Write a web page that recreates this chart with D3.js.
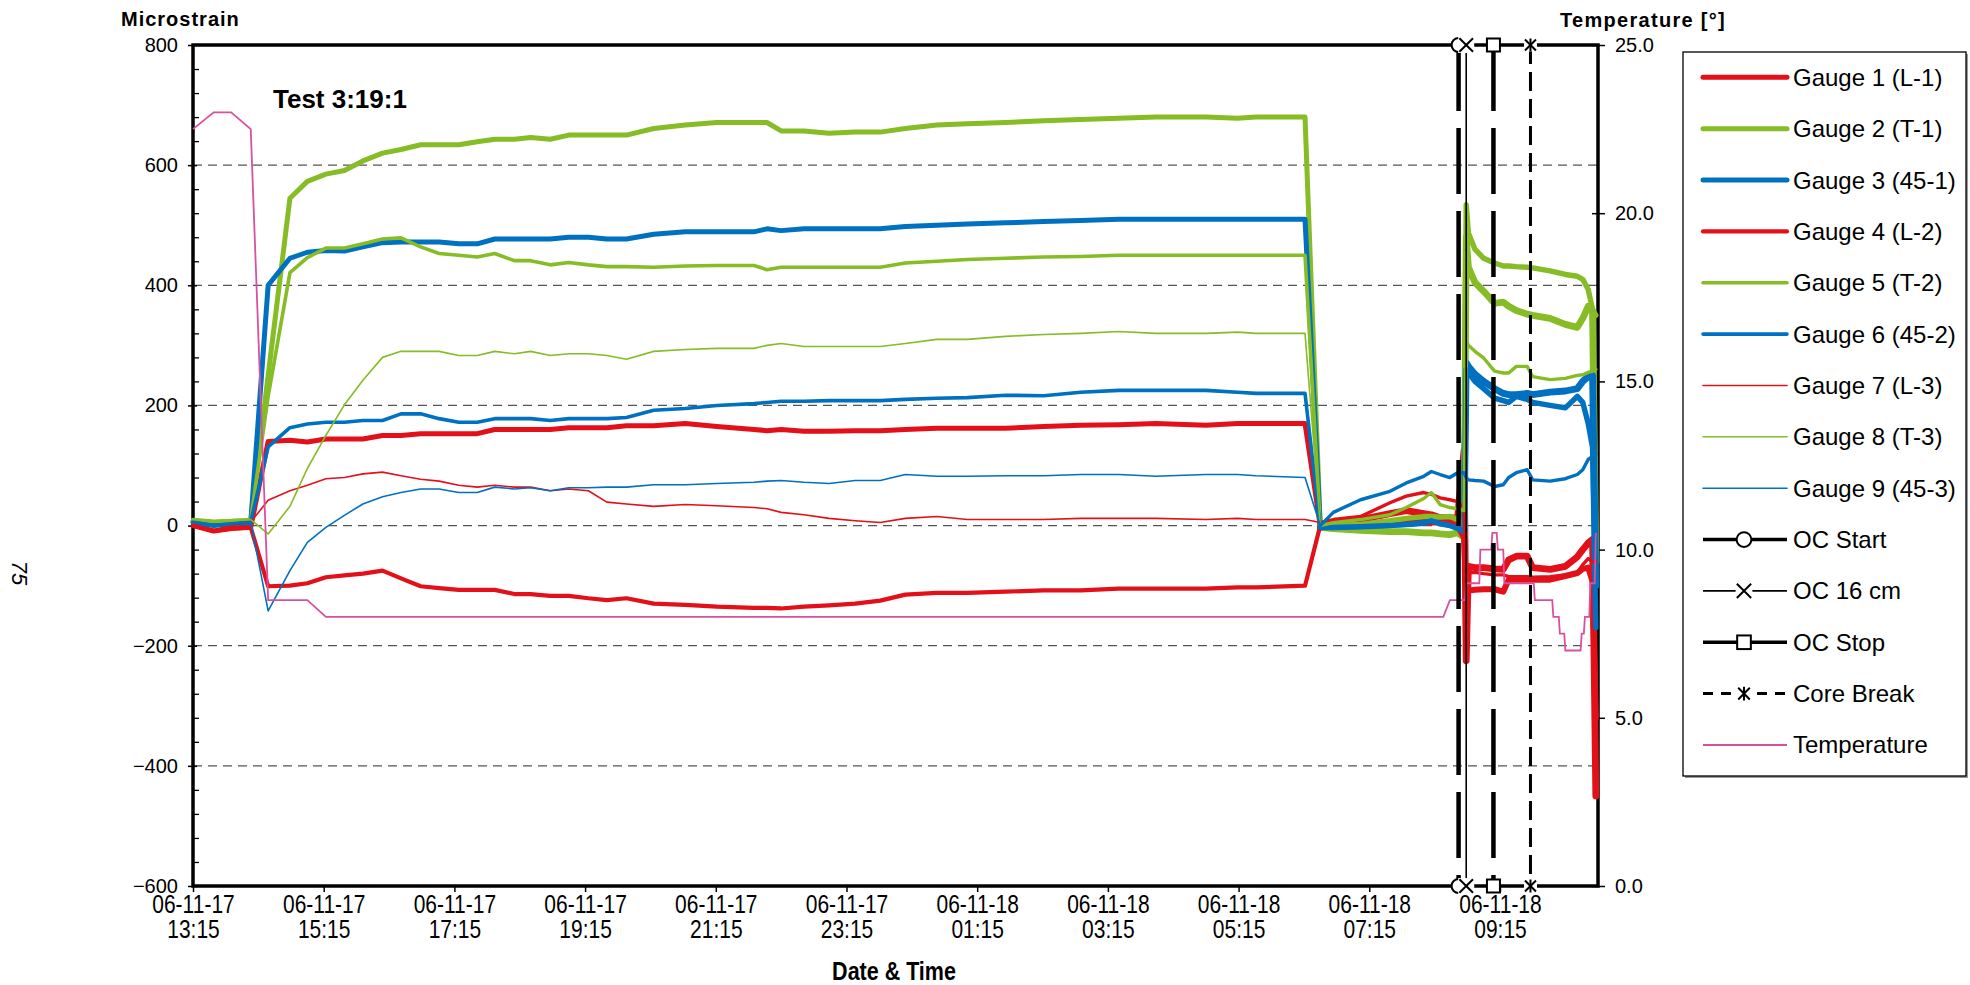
<!DOCTYPE html>
<html lang="en">
<head>
<meta charset="utf-8">
<title>Test 3:19:1</title>
<script src="https://d3js.org/d3.v7.min.js"></script>
<style>
  body { margin: 0; background: #fff; }
  svg text { font-family: "Liberation Sans", Arial, sans-serif; fill: #000; }
  .grid line { stroke: #555; stroke-dasharray: 9,6; stroke-width: 1.2; }
</style>
</head>
<body>
<svg width="1970" height="985"></svg>
<script>
// ---- data ----
var phase1Times = ["13:15","13:34","13:50","14:08","14:24","14:44","15:00","15:17","15:34","15:51","16:09","16:26","16:44","17:01","17:19","17:36","17:52","18:10","18:25","18:43","19:00","19:18","19:35","19:53","20:18","20:47","21:16","21:50","22:02","22:15","22:36","22:59","23:23","23:46","00:09","00:38","01:06","01:41","02:16","02:50","03:25","03:59","04:45","05:14","05:31","06:16"];
var afterTimes = ["06:30","06:42","07:07","07:34","07:49","08:05","08:12","08:20","08:29","08:36","08:42","08:44","08:46","08:52","09:00","09:10","09:18","09:23","09:30","09:40","09:45","10:01","10:15","10:26","10:31","10:36","10:40","10:43"];

var g1Phase1 = [0,-9,-5,-3,140,142,139,144,144,144,150,150,153,153,153,153,160,160,160,160,163,163,163,166,166,170,165,160,158,160,157,157,158,158,160,162,162,162,165,167,168,170,167,170,170,170];
var g2Phase1 = [8,5,7,8,250,545,573,585,591,607,620,626,634,634,634,639,643,643,646,643,650,650,650,650,661,667,671,671,671,657,657,653,655,655,661,667,669,671,674,676,678,680,680,678,680,680];
var g3Phase1 = [5,0,3,5,400,445,455,458,457,464,471,472,472,472,469,469,477,477,477,477,480,480,477,477,485,489,489,489,494,491,494,494,494,494,498,500,502,504,506,508,510,510,510,510,510,510];
var g4Phase1 = [0,-9,-5,-3,-101,-100,-96,-86,-83,-80,-75,-88,-101,-104,-107,-107,-107,-114,-114,-117,-117,-121,-124,-121,-130,-132,-135,-137,-137,-138,-135,-133,-130,-125,-115,-112,-112,-110,-108,-108,-105,-105,-105,-103,-103,-100];
var g5Phase1 = [10,7,8,10,215,421,446,462,462,469,477,479,464,453,450,447,453,441,441,434,438,434,431,431,430,432,433,433,426,430,430,430,430,430,437,440,443,445,447,448,450,450,450,450,450,450];
var g6Phase1 = [6,0,3,6,131,163,169,172,172,175,175,186,186,178,172,172,178,178,178,175,178,178,178,180,192,195,200,203,205,207,207,208,208,208,210,212,213,217,216,222,225,225,225,222,220,220];
var g7Phase1 = [2,-7,0,6,42,58,67,78,80,86,89,83,77,74,67,64,67,64,64,58,61,58,39,36,32,35,33,30,28,22,18,12,8,5,12,15,10,10,10,12,12,12,10,12,10,10];
var g8Phase1 = [10,7,8,10,-14,32,95,150,201,242,280,290,290,290,283,283,290,286,290,283,286,286,283,277,290,293,295,295,300,303,298,298,298,298,303,310,310,315,318,320,323,320,320,322,320,320];
var g9Phase1 = [6,-2,2,6,-142,-75,-28,-3,17,36,48,55,61,61,55,55,64,61,63,58,63,63,64,64,68,68,70,72,74,75,72,70,75,75,85,82,82,83,83,85,85,82,85,85,83,80];

var g1After = [0,5,10,20,25,20,18,13,13,12,125,-225,-68,-70,-70,-72,-73,-57,-51,-51,-70,-73,-68,-52,-40,-29,-23,-450];
var g2After = [-3,-5,-8,-10,-10,-12,-12,-14,-15,-12,-20,480,430,405,390,370,372,365,358,352,350,345,335,330,345,365,355,-60];
var g3After = [-2,-2,0,2,3,5,10,5,3,0,-10,271,265,252,240,228,220,218,218,220,218,222,224,228,240,248,250,-100];
var g4After = [0,2,3,5,5,6,5,5,4,0,-20,-108,-108,-107,-106,-106,-110,-90,-90,-90,-90,-90,-84,-79,-72,-70,-93,-320];
var g5After = [0,0,2,8,12,15,15,14,15,10,0,534,487,460,445,437,432,432,431,430,429,424,418,415,410,393,360,350];
var g6After = [-3,-3,-2,0,2,5,8,3,0,-5,-10,260,255,240,228,212,208,205,215,210,205,200,196,215,205,170,130,-170];
var g7After = [5,10,15,38,49,55,52,46,43,40,30,-80,-78,-78,-80,-82,-82,-85,-85,-85,-86,-85,-82,-78,-65,-55,-60,-60];
var g8After = [0,5,10,18,30,45,55,35,30,28,25,309,300,290,279,257,254,254,265,265,248,243,245,250,251,255,257,260];
var g9After = [0,22,43,57,71,82,90,85,80,88,88,80,76,75,74,65,68,80,88,93,76,74,78,85,93,110,115,120];

var tempTimes = ["13:15","13:34","13:50","14:08","14:24","15:00","15:17","08:23","08:29","08:43","08:44","08:56","08:57","09:07","09:08","09:12","09:13","09:18","09:19","09:46","09:47","10:03","10:04","10:09","10:10","10:14","10:15","10:29","10:30","10:32","10:33","10:37","10:38","10:42","10:43"];
var tempValues = [22.5,23.0,23.0,22.5,8.5,8.5,8.0,8.0,8.5,8.5,9.0,9.0,10.0,10.0,10.5,10.5,10.0,10.0,9.0,9.0,8.5,8.5,8.0,8.0,7.5,7.5,7.0,7.0,7.5,7.5,8.0,8.0,9.0,9.0,10.5];

var gaugeNames = ["Gauge 1 (L-1)","Gauge 2 (T-1)","Gauge 3 (45-1)","Gauge 4 (L-2)","Gauge 5 (T-2)","Gauge 6 (45-2)","Gauge 7 (L-3)","Gauge 8 (T-3)","Gauge 9 (45-3)"];
var eventNames = ["OC Start","OC 16 cm","OC Stop","Core Break"];
var eventTimes = ["08:37","08:44","09:09","09:43"];

var xTickTimes = ["13:15","15:15","17:15","19:15","21:15","23:15","01:15","03:15","05:15","07:15","09:15"];
var yLeftTicks = [-600,-400,-200,0,200,400,600,800];
var yRightTicks = [0,5,10,15,20,25];

// ---- styles ----
var red = "#e3101a", green = "#86bc25", blue = "#0070c0", pink = "#d9509f";
var gaugeColors = [red, green, blue, red, green, blue, red, green, blue];
var gaugeWidths = [5, 5, 5, 4.2, 3.6, 3.6, 1.6, 1.6, 1.6];
var eventStyles = [
  {w: 4.5, dash: "66,17", marker: "circle"},
  {w: 1.6, dash: null, marker: "x"},
  {w: 4.5, dash: "66,17", marker: "square"},
  {w: 3, dash: "19,8", marker: "star"}
];

var phase1 = [g1Phase1,g2Phase1,g3Phase1,g4Phase1,g5Phase1,g6Phase1,g7Phase1,g8Phase1,g9Phase1];
var after = [g1After,g2After,g3After,g4After,g5After,g6After,g7After,g8After,g9After];

function parseT(s) {
  var p = s.split(":").map(Number);
  return new Date(2006, 10, p[0] < 12 ? 18 : 17, p[0], p[1]);
}

var svg = d3.select("svg");
var pLeft = 193, pRight = 1598, pTop = 45, pBottom = 886;

var x = d3.scaleTime()
  .domain([parseT("13:15"), parseT("10:45")])
  .range([pLeft, pRight]);
var yL = d3.scaleLinear().domain([-600, 800]).range([pBottom, pTop]);
var yR = d3.scaleLinear().domain([0, 25]).range([pBottom, pTop]);

// gridlines
svg.append("g").attr("class", "grid")
  .selectAll("line")
  .data(yLeftTicks.filter(function(d){ return d > -600 && d < 800; }))
  .enter().append("line")
  .attr("x1", pLeft).attr("x2", pRight)
  .attr("y1", function(d){ return yL(d); })
  .attr("y2", function(d){ return yL(d); });

// left axis
var axL = svg.append("g").attr("transform", "translate(" + pLeft + ",0)")
  .call(d3.axisLeft(yL).tickValues(yLeftTicks).tickSize(5).tickPadding(10));
axL.select(".domain").remove();
axL.selectAll(".tick line").attr("x1", 4).attr("stroke-width", 1.5);
axL.selectAll("text").style("font-size", "20px");

var minor = d3.range(-600, 801, 40).filter(function(d){ return d % 200 !== 0; });
svg.append("g").attr("transform", "translate(" + pLeft + ",0)")
  .call(d3.axisLeft(yL).tickValues(minor).tickSize(-6).tickFormat(""))
  .call(function(g){ g.select(".domain").remove(); g.selectAll("line").attr("stroke-width", 1.3); });

// right axis
var axR = svg.append("g").attr("transform", "translate(" + pRight + ",0)")
  .call(d3.axisRight(yR).tickValues(yRightTicks).tickFormat(d3.format(".1f")).tickSize(7).tickPadding(10));
axR.select(".domain").remove();
axR.selectAll(".tick line").attr("x1", -6).attr("stroke-width", 1.5);
axR.selectAll("text").style("font-size", "20px");

// bottom axis (narrow two-line labels)
var fmtDay = d3.timeFormat("%y-%m-%d"), fmtHM = d3.timeFormat("%H:%M");
var axB = svg.append("g").attr("transform", "translate(0," + pBottom + ")")
  .call(d3.axisBottom(x).tickValues(xTickTimes.map(parseT)).tickSize(6));
axB.select(".domain").remove();
axB.selectAll(".tick line").attr("stroke-width", 1.5);
axB.selectAll(".tick text").each(function(d) {
  var t = d3.select(this).attr("y", 0).attr("dy", null)
    .attr("transform", "scale(0.84,1)").style("font-size", "25px");
  t.text(null);
  t.append("tspan").attr("x", 0).attr("y", 27).text(fmtDay(d));
  t.append("tspan").attr("x", 0).attr("y", 52).text(fmtHM(d));
});

// frame
svg.append("rect")
  .attr("x", pLeft).attr("y", pTop)
  .attr("width", pRight - pLeft).attr("height", pBottom - pTop)
  .attr("fill", "none").attr("stroke", "#000").attr("stroke-width", 3.5);

// gauge series
var line = d3.line()
  .x(function(d){ return x(d[0]); })
  .y(function(d){ return yL(d[1]); });

phase1.forEach(function(vals, i) {
  var pts1 = vals.map(function(v, j){ return [parseT(phase1Times[j]), v]; });
  pts1.push([parseT(afterTimes[0]), after[i][0]]);
  var pts2 = after[i].map(function(v, j){ return [parseT(afterTimes[j]), v]; });
  svg.append("path").datum(pts1)
    .attr("d", line).attr("fill", "none")
    .attr("stroke", gaugeColors[i]).attr("stroke-width", gaugeWidths[i])
    .attr("stroke-linejoin", "round").attr("stroke-linecap", "round");
  // noisy logging after 06:30 shows as a wider band
  svg.append("path").datum(pts2)
    .attr("d", line).attr("fill", "none")
    .attr("stroke", gaugeColors[i]).attr("stroke-width", gaugeWidths[i] + 1.8)
    .attr("stroke-linejoin", "round").attr("stroke-linecap", "round");
});

// temperature
var tempLine = d3.line()
  .x(function(d){ return x(d[0]); })
  .y(function(d){ return yR(d[1]); });
svg.append("path")
  .datum(tempValues.map(function(v, j){ return [parseT(tempTimes[j]), v]; }))
  .attr("d", tempLine).attr("fill", "none")
  .attr("stroke", pink).attr("stroke-width", 1.8);

// markers
function marker(g, type, cx, cy, s) {
  s = s || 1;
  if (type === "circle") {
    g.append("circle").attr("cx", cx).attr("cy", cy).attr("r", 7 * s)
      .attr("fill", "#fff").attr("stroke", "#000").attr("stroke-width", 2);
  } else if (type === "square") {
    g.append("rect").attr("x", cx - 6.5 * s).attr("y", cy - 6.5 * s)
      .attr("width", 13 * s).attr("height", 13 * s)
      .attr("fill", "#fff").attr("stroke", "#000").attr("stroke-width", 2);
  } else {
    var r = (type === "x" ? 8 : 6.5) * s;
    g.append("rect").attr("x", cx - r).attr("y", cy - r).attr("width", 2 * r).attr("height", 2 * r)
      .attr("fill", "#fff");
    var k = r * 0.85;
    g.append("line").attr("x1", cx - k).attr("y1", cy - k).attr("x2", cx + k).attr("y2", cy + k)
      .attr("stroke", "#000").attr("stroke-width", 2);
    g.append("line").attr("x1", cx - k).attr("y1", cy + k).attr("x2", cx + k).attr("y2", cy - k)
      .attr("stroke", "#000").attr("stroke-width", 2);
    if (type === "star") {
      g.append("line").attr("x1", cx).attr("y1", cy - r).attr("x2", cx).attr("y2", cy + r)
        .attr("stroke", "#000").attr("stroke-width", 2);
    }
  }
}

var ev = svg.append("g");
eventTimes.forEach(function(t, i) {
  var st = eventStyles[i], ex = x(parseT(t));
  ev.append("line")
    .attr("x1", ex).attr("x2", ex).attr("y1", yL(800)).attr("y2", yL(-600))
    .attr("stroke", "#000").attr("stroke-width", st.w)
    .attr("stroke-dasharray", st.dash);
});
eventTimes.forEach(function(t, i) {
  var ex = x(parseT(t));
  marker(ev, eventStyles[i].marker, ex, yL(800));
  marker(ev, eventStyles[i].marker, ex, yL(-600));
});

// titles
svg.append("text").attr("x", 121).attr("y", 26)
  .style("font-size", "20px").style("font-weight", "bold").style("letter-spacing", "1px")
  .text("Microstrain");
svg.append("text").attr("x", 1560).attr("y", 27)
  .style("font-size", "20px").style("font-weight", "bold").style("letter-spacing", "1.3px")
  .text("Temperature [°]");
svg.append("text").attr("x", 273).attr("y", 108)
  .style("font-size", "26px").style("font-weight", "bold")
  .text("Test 3:19:1");
svg.append("text").attr("transform", "translate(894,980) scale(0.86,1)")
  .attr("text-anchor", "middle")
  .style("font-size", "25px").style("font-weight", "bold")
  .text("Date & Time");
svg.append("text").attr("transform", "translate(12,573) rotate(90)")
  .attr("text-anchor", "middle")
  .style("font-size", "22px").style("font-style", "italic")
  .text("75");

// legend
var lg = svg.append("g");
lg.append("rect").attr("x", 1685).attr("y", 54).attr("width", 283).attr("height", 724).attr("fill", "#999");
lg.append("rect").attr("x", 1683).attr("y", 52).attr("width", 283).attr("height", 724)
  .attr("fill", "#fff").attr("stroke", "#000").attr("stroke-width", 1.3);

var rowY = function(i){ return 77.3 + i * 51.36; };
gaugeNames.forEach(function(name, i) {
  lg.append("line").attr("x1", 1703).attr("x2", 1787).attr("y1", rowY(i)).attr("y2", rowY(i))
    .attr("stroke", gaugeColors[i]).attr("stroke-width", gaugeWidths[i]).attr("stroke-linecap", "round");
});
eventNames.forEach(function(name, k) {
  var i = gaugeNames.length + k, st = eventStyles[k], yy = rowY(i);
  lg.append("line").attr("x1", 1703).attr("x2", 1787).attr("y1", yy).attr("y2", yy)
    .attr("stroke", "#000").attr("stroke-width", Math.min(st.w, 3.5))
    .attr("stroke-dasharray", k === 3 ? "10,8" : null);
  marker(lg, st.marker, 1744, yy, 1.05);
});
lg.append("line").attr("x1", 1703).attr("x2", 1787).attr("y1", rowY(13)).attr("y2", rowY(13))
  .attr("stroke", pink).attr("stroke-width", 1.8);

gaugeNames.concat(eventNames, ["Temperature"]).forEach(function(name, i) {
  lg.append("text").attr("x", 1793).attr("y", rowY(i) + 8.5)
    .style("font-size", "24px").text(name);
});
</script>
</body>
</html>
